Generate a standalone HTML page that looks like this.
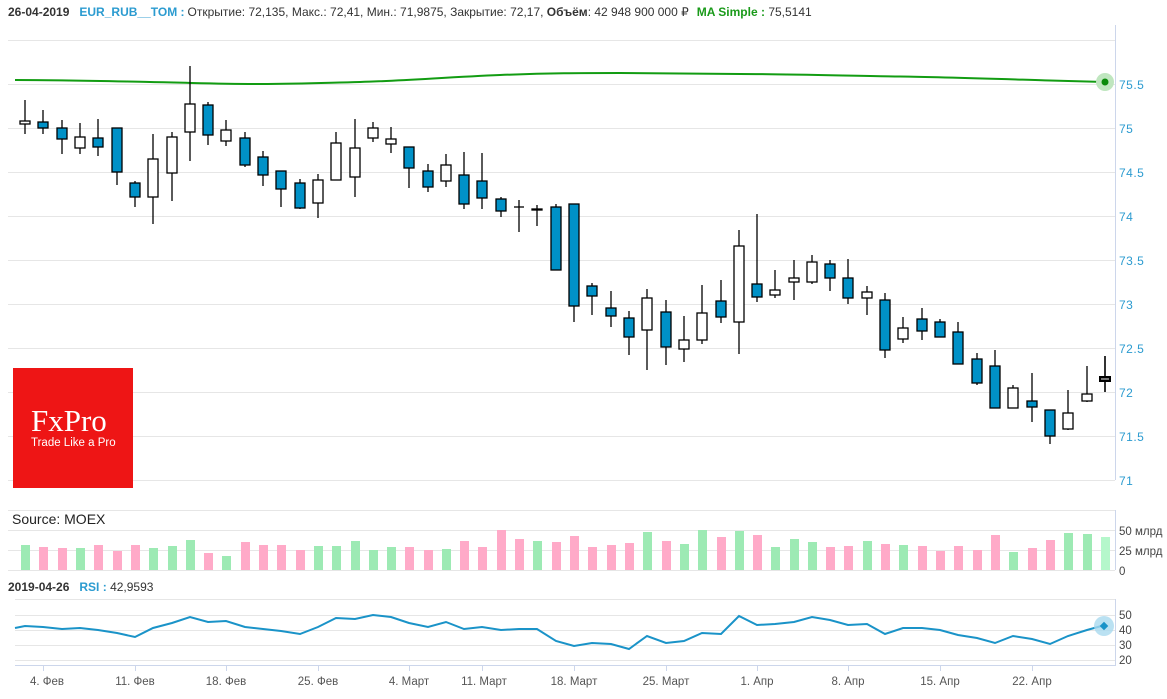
<!DOCTYPE html>
<html><head><meta charset="utf-8"><style>
html,body{margin:0;padding:0;background:#fff;}
svg{display:block;font-family:"Liberation Sans",sans-serif;}
</style></head><body>
<svg width="1167" height="699" viewBox="0 0 1167 699" xmlns="http://www.w3.org/2000/svg">
<rect width="1167" height="699" fill="#fff"/>
<text x="8" y="16" font-size="12" fill="#333"><tspan font-weight="bold">26-04-2019</tspan><tspan dx="10" font-weight="bold" fill="#2b9bd0">EUR_RUB__TOM :</tspan><tspan dx="3">Открытие: 72,135, Макс.: 72,41, Мин.: 71,9875, Закрытие: 72,17, </tspan><tspan font-weight="bold">Объём</tspan><tspan>: 42 948 900 000 ₽</tspan><tspan dx="8" font-weight="bold" fill="#1a9a1a">MA Simple : </tspan><tspan>75,5141</tspan></text>
<g stroke="#e6e6e6" stroke-width="1">
<line x1="8" x2="1115" y1="40.5" y2="40.5"/>
<line x1="8" x2="1115" y1="84.5" y2="84.5"/>
<line x1="8" x2="1115" y1="128.5" y2="128.5"/>
<line x1="8" x2="1115" y1="172.5" y2="172.5"/>
<line x1="8" x2="1115" y1="216.5" y2="216.5"/>
<line x1="8" x2="1115" y1="260.5" y2="260.5"/>
<line x1="8" x2="1115" y1="304.5" y2="304.5"/>
<line x1="8" x2="1115" y1="348.5" y2="348.5"/>
<line x1="8" x2="1115" y1="392.5" y2="392.5"/>
<line x1="8" x2="1115" y1="436.5" y2="436.5"/>
<line x1="8" x2="1115" y1="480.5" y2="480.5"/>
</g>
<line x1="1115.5" x2="1115.5" y1="25" y2="480" stroke="#ccd6eb"/>
<g font-size="12" fill="#2b9bd0" letter-spacing="0.5">
<text x="1119" y="89">75.5</text><text x="1119" y="133">75</text><text x="1119" y="177">74.5</text><text x="1119" y="221">74</text><text x="1119" y="265">73.5</text><text x="1119" y="309">73</text><text x="1119" y="353">72.5</text><text x="1119" y="397">72</text><text x="1119" y="441">71.5</text><text x="1119" y="485">71</text>
</g>
<path d="M15,80 C60,80 100,81 150,82 S220,84 260,84 S320,83 360,82 S450,77 500,75 S580,73 620,73 S700,74 740,74 S860,76 900,76.5 S1000,79 1050,80.5 L1105,82" fill="none" stroke="#129c12" stroke-width="2"/>
<circle cx="1105" cy="82" r="9" fill="#bfe6bf"/><circle cx="1105" cy="82" r="3.5" fill="#0a8a0a"/>
<rect x="13" y="368" width="120" height="120" fill="#ee1515"/>
<text x="31" y="431" font-family="'Liberation Serif',serif" font-size="31" fill="#fff">FxPro</text>
<text x="31" y="446" font-size="11.5" fill="#fff">Trade Like a Pro</text>
<g stroke="#000" stroke-width="1.3">
<line x1="25" x2="25" y1="100" y2="134"/><rect x="20" y="121" width="10" height="3" fill="#fff"/>
<line x1="43" x2="43" y1="110" y2="134"/><rect x="38" y="122" width="10" height="6" fill="#0091c7"/>
<line x1="62" x2="62" y1="120" y2="154"/><rect x="57" y="128" width="10" height="11" fill="#0091c7"/>
<line x1="80" x2="80" y1="123" y2="154"/><rect x="75" y="137" width="10" height="11" fill="#fff"/>
<line x1="98" x2="98" y1="119" y2="156"/><rect x="93" y="138" width="10" height="9" fill="#0091c7"/>
<line x1="117" x2="117" y1="128" y2="185"/><rect x="112" y="128" width="10" height="44" fill="#0091c7"/>
<line x1="135" x2="135" y1="181" y2="207"/><rect x="130" y="183" width="10" height="14" fill="#0091c7"/>
<line x1="153" x2="153" y1="134" y2="224"/><rect x="148" y="159" width="10" height="38" fill="#fff"/>
<line x1="172" x2="172" y1="132" y2="201"/><rect x="167" y="137" width="10" height="36" fill="#fff"/>
<line x1="190" x2="190" y1="66" y2="161"/><rect x="185" y="104" width="10" height="28" fill="#fff"/>
<line x1="208" x2="208" y1="102" y2="145"/><rect x="203" y="105" width="10" height="30" fill="#0091c7"/>
<line x1="226" x2="226" y1="120" y2="146"/><rect x="221" y="130" width="10" height="11" fill="#fff"/>
<line x1="245" x2="245" y1="132" y2="167"/><rect x="240" y="138" width="10" height="27" fill="#0091c7"/>
<line x1="263" x2="263" y1="151" y2="186"/><rect x="258" y="157" width="10" height="18" fill="#0091c7"/>
<line x1="281" x2="281" y1="171" y2="207"/><rect x="276" y="171" width="10" height="18" fill="#0091c7"/>
<line x1="300" x2="300" y1="179" y2="209"/><rect x="295" y="183" width="10" height="25" fill="#0091c7"/>
<line x1="318" x2="318" y1="174" y2="218"/><rect x="313" y="180" width="10" height="23" fill="#fff"/>
<line x1="336" x2="336" y1="132" y2="180"/><rect x="331" y="143" width="10" height="37" fill="#fff"/>
<line x1="355" x2="355" y1="119" y2="197"/><rect x="350" y="148" width="10" height="29" fill="#fff"/>
<line x1="373" x2="373" y1="122" y2="142"/><rect x="368" y="128" width="10" height="10" fill="#fff"/>
<line x1="391" x2="391" y1="127" y2="153"/><rect x="386" y="139" width="10" height="5" fill="#fff"/>
<line x1="409" x2="409" y1="147" y2="188"/><rect x="404" y="147" width="10" height="21" fill="#0091c7"/>
<line x1="428" x2="428" y1="164" y2="192"/><rect x="423" y="171" width="10" height="16" fill="#0091c7"/>
<line x1="446" x2="446" y1="154" y2="187"/><rect x="441" y="165" width="10" height="16" fill="#fff"/>
<line x1="464" x2="464" y1="152" y2="209"/><rect x="459" y="175" width="10" height="29" fill="#0091c7"/>
<line x1="482" x2="482" y1="153" y2="209"/><rect x="477" y="181" width="10" height="17" fill="#0091c7"/>
<line x1="501" x2="501" y1="197" y2="217"/><rect x="496" y="199" width="10" height="12" fill="#0091c7"/>
<line x1="519" x2="519" y1="200" y2="232"/><line x1="514" x2="524" y1="207" y2="207"/>
<line x1="537" x2="537" y1="205" y2="226"/><rect x="532" y="209" width="10" height="1" fill="#000"/>
<line x1="556" x2="556" y1="204" y2="270"/><rect x="551" y="207" width="10" height="63" fill="#0091c7"/>
<line x1="574" x2="574" y1="204" y2="322"/><rect x="569" y="204" width="10" height="102" fill="#0091c7"/>
<line x1="592" x2="592" y1="283" y2="315"/><rect x="587" y="286" width="10" height="10" fill="#0091c7"/>
<line x1="611" x2="611" y1="291" y2="327"/><rect x="606" y="308" width="10" height="8" fill="#0091c7"/>
<line x1="629" x2="629" y1="311" y2="355"/><rect x="624" y="318" width="10" height="19" fill="#0091c7"/>
<line x1="647" x2="647" y1="289" y2="370"/><rect x="642" y="298" width="10" height="32" fill="#fff"/>
<line x1="666" x2="666" y1="300" y2="365"/><rect x="661" y="312" width="10" height="35" fill="#0091c7"/>
<line x1="684" x2="684" y1="316" y2="362"/><rect x="679" y="340" width="10" height="9" fill="#fff"/>
<line x1="702" x2="702" y1="285" y2="344"/><rect x="697" y="313" width="10" height="27" fill="#fff"/>
<line x1="721" x2="721" y1="280" y2="323"/><rect x="716" y="301" width="10" height="16" fill="#0091c7"/>
<line x1="739" x2="739" y1="230" y2="354"/><rect x="734" y="246" width="10" height="76" fill="#fff"/>
<line x1="757" x2="757" y1="214" y2="302"/><rect x="752" y="284" width="10" height="13" fill="#0091c7"/>
<line x1="775" x2="775" y1="270" y2="298"/><rect x="770" y="290" width="10" height="5" fill="#fff"/>
<line x1="794" x2="794" y1="260" y2="300"/><rect x="789" y="278" width="10" height="4" fill="#fff"/>
<line x1="812" x2="812" y1="255" y2="284"/><rect x="807" y="262" width="10" height="20" fill="#fff"/>
<line x1="830" x2="830" y1="260" y2="291"/><rect x="825" y="264" width="10" height="14" fill="#0091c7"/>
<line x1="848" x2="848" y1="259" y2="304"/><rect x="843" y="278" width="10" height="20" fill="#0091c7"/>
<line x1="867" x2="867" y1="286" y2="315"/><rect x="862" y="292" width="10" height="6" fill="#fff"/>
<line x1="885" x2="885" y1="293" y2="358"/><rect x="880" y="300" width="10" height="50" fill="#0091c7"/>
<line x1="903" x2="903" y1="317" y2="343"/><rect x="898" y="328" width="10" height="11" fill="#fff"/>
<line x1="922" x2="922" y1="308" y2="340"/><rect x="917" y="319" width="10" height="12" fill="#0091c7"/>
<line x1="940" x2="940" y1="319" y2="337"/><rect x="935" y="322" width="10" height="15" fill="#0091c7"/>
<line x1="958" x2="958" y1="322" y2="364"/><rect x="953" y="332" width="10" height="32" fill="#0091c7"/>
<line x1="977" x2="977" y1="353" y2="385"/><rect x="972" y="359" width="10" height="24" fill="#0091c7"/>
<line x1="995" x2="995" y1="350" y2="408"/><rect x="990" y="366" width="10" height="42" fill="#0091c7"/>
<line x1="1013" x2="1013" y1="385" y2="408"/><rect x="1008" y="388" width="10" height="20" fill="#fff"/>
<line x1="1032" x2="1032" y1="373" y2="422"/><rect x="1027" y="401" width="10" height="6" fill="#0091c7"/>
<line x1="1050" x2="1050" y1="410" y2="444"/><rect x="1045" y="410" width="10" height="26" fill="#0091c7"/>
<line x1="1068" x2="1068" y1="390" y2="430"/><rect x="1063" y="413" width="10" height="16" fill="#fff"/>
<line x1="1087" x2="1087" y1="366" y2="402"/><rect x="1082" y="394" width="10" height="7" fill="#fff"/>
<line x1="1105" x2="1105" y1="356" y2="392" stroke="#333" stroke-width="2"/><rect x="1100" y="377" width="10" height="4" fill="#777" stroke-width="2"/>
</g>
<text x="12" y="524" font-size="14" fill="#222">Source: MOEX</text>
<g stroke="#e6e6e6"><line x1="8" x2="1115" y1="510.5" y2="510.5"/><line x1="8" x2="1115" y1="530.5" y2="530.5"/><line x1="8" x2="1115" y1="550.5" y2="550.5"/><line x1="8" x2="1115" y1="570.5" y2="570.5"/></g>
<line x1="1115.5" x2="1115.5" y1="510" y2="570" stroke="#ccd6eb"/>
<g font-size="11.5" fill="#444"><text x="1119" y="535">50 млрд</text><text x="1119" y="555">25 млрд</text><text x="1119" y="575">0</text></g>
<g>
<rect x="21" y="545" width="9" height="25" fill="#9deab4"/>
<rect x="39" y="547" width="9" height="23" fill="#ffaac8"/>
<rect x="58" y="548" width="9" height="22" fill="#ffaac8"/>
<rect x="76" y="548" width="9" height="22" fill="#9deab4"/>
<rect x="94" y="545" width="9" height="25" fill="#ffaac8"/>
<rect x="113" y="551" width="9" height="19" fill="#ffaac8"/>
<rect x="131" y="545" width="9" height="25" fill="#ffaac8"/>
<rect x="149" y="548" width="9" height="22" fill="#9deab4"/>
<rect x="168" y="546" width="9" height="24" fill="#9deab4"/>
<rect x="186" y="540" width="9" height="30" fill="#9deab4"/>
<rect x="204" y="553" width="9" height="17" fill="#ffaac8"/>
<rect x="222" y="556" width="9" height="14" fill="#9deab4"/>
<rect x="241" y="542" width="9" height="28" fill="#ffaac8"/>
<rect x="259" y="545" width="9" height="25" fill="#ffaac8"/>
<rect x="277" y="545" width="9" height="25" fill="#ffaac8"/>
<rect x="296" y="550" width="9" height="20" fill="#ffaac8"/>
<rect x="314" y="546" width="9" height="24" fill="#9deab4"/>
<rect x="332" y="546" width="9" height="24" fill="#9deab4"/>
<rect x="351" y="541" width="9" height="29" fill="#9deab4"/>
<rect x="369" y="550" width="9" height="20" fill="#9deab4"/>
<rect x="387" y="547" width="9" height="23" fill="#9deab4"/>
<rect x="405" y="547" width="9" height="23" fill="#ffaac8"/>
<rect x="424" y="550" width="9" height="20" fill="#ffaac8"/>
<rect x="442" y="549" width="9" height="21" fill="#9deab4"/>
<rect x="460" y="541" width="9" height="29" fill="#ffaac8"/>
<rect x="478" y="547" width="9" height="23" fill="#ffaac8"/>
<rect x="497" y="530" width="9" height="40" fill="#ffaac8"/>
<rect x="515" y="539" width="9" height="31" fill="#ffaac8"/>
<rect x="533" y="541" width="9" height="29" fill="#9deab4"/>
<rect x="552" y="542" width="9" height="28" fill="#ffaac8"/>
<rect x="570" y="536" width="9" height="34" fill="#ffaac8"/>
<rect x="588" y="547" width="9" height="23" fill="#ffaac8"/>
<rect x="607" y="545" width="9" height="25" fill="#ffaac8"/>
<rect x="625" y="543" width="9" height="27" fill="#ffaac8"/>
<rect x="643" y="532" width="9" height="38" fill="#9deab4"/>
<rect x="662" y="541" width="9" height="29" fill="#ffaac8"/>
<rect x="680" y="544" width="9" height="26" fill="#9deab4"/>
<rect x="698" y="530" width="9" height="40" fill="#9deab4"/>
<rect x="717" y="537" width="9" height="33" fill="#ffaac8"/>
<rect x="735" y="531" width="9" height="39" fill="#9deab4"/>
<rect x="753" y="535" width="9" height="35" fill="#ffaac8"/>
<rect x="771" y="547" width="9" height="23" fill="#9deab4"/>
<rect x="790" y="539" width="9" height="31" fill="#9deab4"/>
<rect x="808" y="542" width="9" height="28" fill="#9deab4"/>
<rect x="826" y="547" width="9" height="23" fill="#ffaac8"/>
<rect x="844" y="546" width="9" height="24" fill="#ffaac8"/>
<rect x="863" y="541" width="9" height="29" fill="#9deab4"/>
<rect x="881" y="544" width="9" height="26" fill="#ffaac8"/>
<rect x="899" y="545" width="9" height="25" fill="#9deab4"/>
<rect x="918" y="546" width="9" height="24" fill="#ffaac8"/>
<rect x="936" y="551" width="9" height="19" fill="#ffaac8"/>
<rect x="954" y="546" width="9" height="24" fill="#ffaac8"/>
<rect x="973" y="550" width="9" height="20" fill="#ffaac8"/>
<rect x="991" y="535" width="9" height="35" fill="#ffaac8"/>
<rect x="1009" y="552" width="9" height="18" fill="#9deab4"/>
<rect x="1028" y="548" width="9" height="22" fill="#ffaac8"/>
<rect x="1046" y="540" width="9" height="30" fill="#ffaac8"/>
<rect x="1064" y="533" width="9" height="37" fill="#9deab4"/>
<rect x="1083" y="534" width="9" height="36" fill="#9deab4"/>
<rect x="1101" y="537" width="9" height="33" fill="#b5f7cb"/>
</g>
<text x="8" y="591" font-size="12" fill="#333"><tspan font-weight="bold">2019-04-26</tspan><tspan dx="10" font-weight="bold" fill="#2b9bd0">RSI : </tspan><tspan>42,9593</tspan></text>
<g stroke="#e6e6e6"><line x1="15" x2="1115" y1="599.5" y2="599.5"/><line x1="15" x2="1115" y1="615.5" y2="615.5"/><line x1="15" x2="1115" y1="630.5" y2="630.5"/><line x1="15" x2="1115" y1="645.5" y2="645.5"/><line x1="15" x2="1115" y1="660.5" y2="660.5"/></g>
<line x1="1115.5" x2="1115.5" y1="599" y2="665" stroke="#ccd6eb"/>
<line x1="15" x2="1116" y1="665.5" y2="665.5" stroke="#ccd6eb"/>
<g font-size="11.5" fill="#444"><text x="1119" y="619">50</text><text x="1119" y="634">40</text><text x="1119" y="649">30</text><text x="1119" y="664">20</text></g>
<polyline fill="none" stroke="#1a93c8" stroke-width="2" points="15,628 25,626 43,627 62,629 80,628 98,630 117,633 135,637 153,628 172,623 190,617 208,622 226,621 245,627 263,629 281,631 300,634 318,627 336,618 355,619 373,615 391,617 409,623 428,627 446,622 464,629 482,627 501,630 519,629 537,629 556,641 574,646 592,643 611,644 629,649 647,636 666,643 684,641 702,633 721,634 739,616 757,625 775,624 794,622 812,617 830,620 848,625 867,624 885,634 903,628 922,628 940,630 958,635 977,638 995,643 1013,636 1032,639 1050,644 1068,636 1087,630 1105,625"/>
<circle cx="1104" cy="626" r="10" fill="#a9d9ef" opacity="0.8"/>
<rect x="1101" y="623" width="6" height="6" fill="#1a93c8" transform="rotate(45 1104 626)"/>
<g stroke="#ccd6eb"><line x1="43.5" x2="43.5" y1="665" y2="671"/><line x1="135.5" x2="135.5" y1="665" y2="671"/><line x1="226.5" x2="226.5" y1="665" y2="671"/><line x1="318.5" x2="318.5" y1="665" y2="671"/><line x1="409.5" x2="409.5" y1="665" y2="671"/><line x1="482.5" x2="482.5" y1="665" y2="671"/><line x1="574.5" x2="574.5" y1="665" y2="671"/><line x1="666.5" x2="666.5" y1="665" y2="671"/><line x1="757.5" x2="757.5" y1="665" y2="671"/><line x1="848.5" x2="848.5" y1="665" y2="671"/><line x1="940.5" x2="940.5" y1="665" y2="671"/><line x1="1032.5" x2="1032.5" y1="665" y2="671"/></g>
<g font-size="11.5" fill="#555" text-anchor="middle">
<text x="47" y="685">4. Фев</text><text x="135" y="685">11. Фев</text><text x="226" y="685">18. Фев</text><text x="318" y="685">25. Фев</text><text x="409" y="685">4. Март</text><text x="484" y="685">11. Март</text><text x="574" y="685">18. Март</text><text x="666" y="685">25. Март</text><text x="757" y="685">1. Апр</text><text x="848" y="685">8. Апр</text><text x="940" y="685">15. Апр</text><text x="1032" y="685">22. Апр</text>
</g>
</svg>
</body></html>
